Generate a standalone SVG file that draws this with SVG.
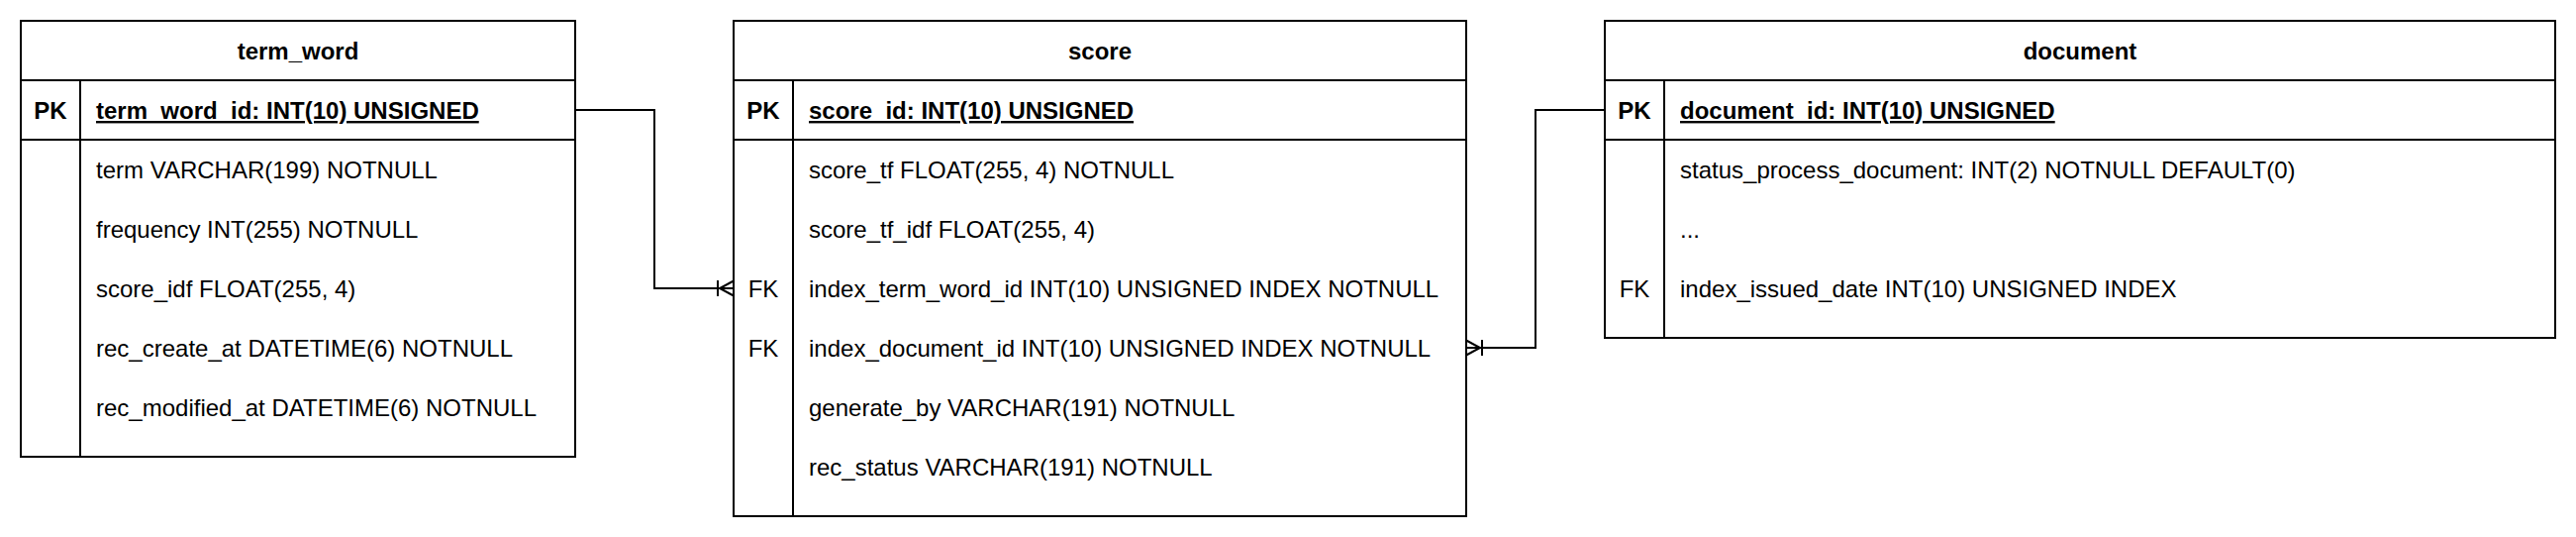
<svg xmlns="http://www.w3.org/2000/svg" width="2602" height="542" viewBox="0 0 2602 542">
<style>
.box{fill:#fff;stroke:#000;stroke-width:2}
.ln{stroke:#000;stroke-width:2;fill:none}
.t{font-family:"Liberation Sans",Arial,Helvetica,sans-serif;font-size:24px;fill:#000}
.b{font-weight:bold}
.c{text-anchor:middle}
.u{text-decoration:underline}
</style>
<defs>
<marker id="oneToMany" markerUnits="userSpaceOnUse" viewBox="-20 -10 22 20" refX="0" refY="0" markerWidth="22" markerHeight="20" orient="auto" overflow="visible">
<path d="M-16,-8 V8 M0,-7.5 L-14,0 L0,7.5" fill="none" stroke="#000" stroke-width="2"/>
</marker>
</defs>
<rect width="2602" height="542" fill="#fff"/>
<g id="term_word">
<rect class="box" x="21" y="21" width="560" height="440"/>
<path class="ln" d="M21,81 H581 M21,141 H581 M81,81 V461"/>
<text class="t b c" x="301" y="60">term_word</text>
<text class="t b c" x="51" y="120">PK</text>
<text class="t b u" x="97" y="120">term_word_id: INT(10) UNSIGNED</text>
<text class="t" x="97" y="180">term VARCHAR(199) NOTNULL</text>
<text class="t" x="97" y="240">frequency INT(255) NOTNULL</text>
<text class="t" x="97" y="300">score_idf FLOAT(255, 4)</text>
<text class="t" x="97" y="360">rec_create_at DATETIME(6) NOTNULL</text>
<text class="t" x="97" y="420">rec_modified_at DATETIME(6) NOTNULL</text>
</g>
<g id="score">
<rect class="box" x="741" y="21" width="740" height="500"/>
<path class="ln" d="M741,81 H1481 M741,141 H1481 M801,81 V521"/>
<text class="t b c" x="1111" y="60">score</text>
<text class="t b c" x="771" y="120">PK</text>
<text class="t b u" x="817" y="120">score_id: INT(10) UNSIGNED</text>
<text class="t" x="817" y="180">score_tf FLOAT(255, 4) NOTNULL</text>
<text class="t" x="817" y="240">score_tf_idf FLOAT(255, 4)</text>
<text class="t c" x="771" y="300">FK</text>
<text class="t" x="817" y="300">index_term_word_id INT(10) UNSIGNED INDEX NOTNULL</text>
<text class="t c" x="771" y="360">FK</text>
<text class="t" x="817" y="360">index_document_id INT(10) UNSIGNED INDEX NOTNULL</text>
<text class="t" x="817" y="420">generate_by VARCHAR(191) NOTNULL</text>
<text class="t" x="817" y="480">rec_status VARCHAR(191) NOTNULL</text>
</g>
<g id="document">
<rect class="box" x="1621" y="21" width="960" height="320"/>
<path class="ln" d="M1621,81 H2581 M1621,141 H2581 M1681,81 V341"/>
<text class="t b c" x="2101" y="60">document</text>
<text class="t b c" x="1651" y="120">PK</text>
<text class="t b u" x="1697" y="120">document_id: INT(10) UNSIGNED</text>
<text class="t" x="1697" y="180">status_process_document: INT(2) NOTNULL DEFAULT(0)</text>
<text class="t" x="1697" y="240">...</text>
<text class="t c" x="1651" y="300">FK</text>
<text class="t" x="1697" y="300">index_issued_date INT(10) UNSIGNED INDEX</text>
</g>
<g id="connectors">
<path class="ln" d="M581,111 H661 V291 H741" marker-end="url(#oneToMany)"/>
<path class="ln" d="M1621,111 H1551 V351 H1481" marker-end="url(#oneToMany)"/>
</g>
</svg>
